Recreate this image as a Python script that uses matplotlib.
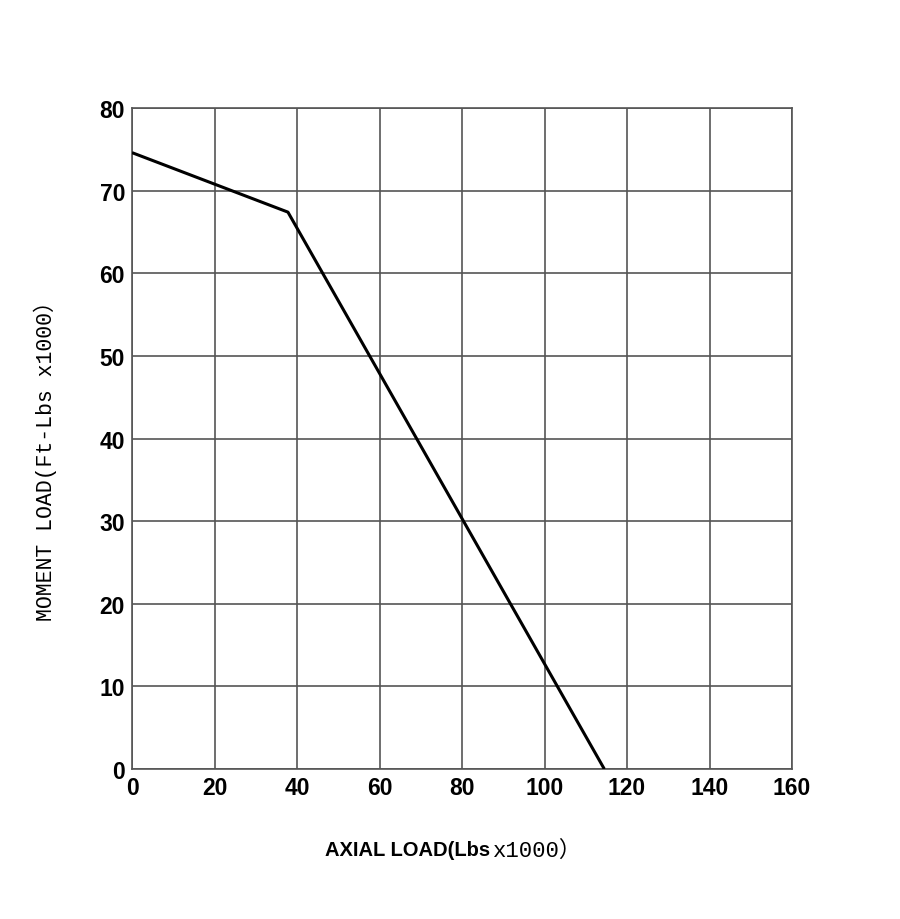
import matplotlib
matplotlib.use("Agg")
import matplotlib.pyplot as plt
from matplotlib import font_manager

# Data
axial_load = [0, 37.8, 114.5]        # Lbs x1000
moment_load = [74.6, 67.4, 0]        # Ft-Lbs x1000
x_ticks = [0, 20, 40, 60, 80, 100, 120, 140, 160]
y_ticks = [0, 10, 20, 30, 40, 50, 60, 70, 80]

names = {f.name for f in font_manager.fontManager.ttflist}
narrow = "Liberation Sans Narrow" if "Liberation Sans Narrow" in names else "Liberation Sans"

fig = plt.figure(figsize=(9, 9.2), dpi=100)
ax = fig.add_axes([0.1467, 0.163, 0.7333, 0.7185])

ax.plot(axial_load, moment_load, color="black", lw=2.2, solid_capstyle="butt", zorder=3)

ax.set_xlim(0, 160)
ax.set_ylim(0, 80)
ax.set_xticks(x_ticks)
ax.set_yticks(y_ticks)
ax.grid(True, color="#555555", lw=1.2)
for s in ax.spines.values():
    s.set_color("#555555")
    s.set_linewidth(1.2)
ax.tick_params(length=0, pad=5)
ax.set_xticklabels([str(v) for v in x_ticks], fontfamily=narrow, fontweight="bold", fontsize=16.5)
ax.set_yticklabels([str(v) for v in y_ticks], fontfamily=narrow, fontweight="bold", fontsize=16.5)

fig.text(0.05, 0.505, "MOMENT LOAD(Ft-Lbs x1000）", rotation=90, ha="center", va="center",
         fontsize=15.5, family=["Liberation Mono", "Noto Sans CJK SC"])

fig.text(0.545, 0.075, "AXIAL LOAD(Lbs", ha="right", va="center",
         fontsize=14.5, fontweight="bold", family=narrow)
fig.text(0.548, 0.075, "x1000）", ha="left", va="center",
         fontsize=16, family=["Liberation Mono", "Noto Sans CJK SC"])

fig.savefig("out.png", dpi=100)
